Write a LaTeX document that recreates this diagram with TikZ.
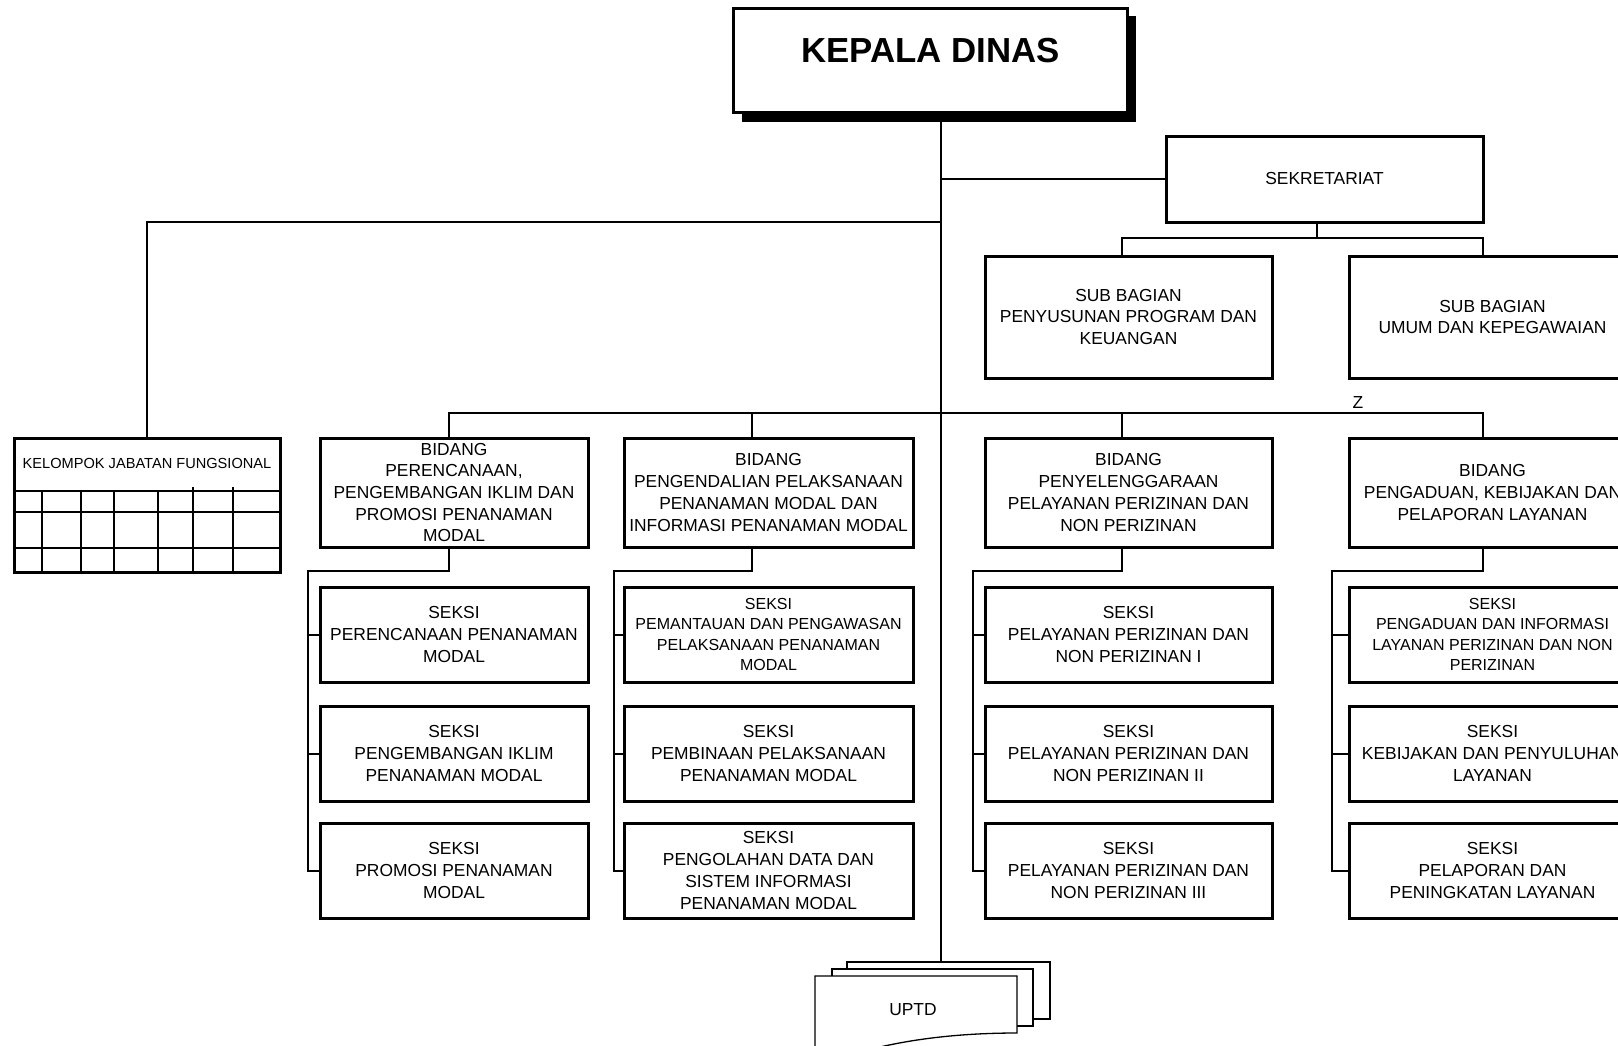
\documentclass[tikz,border=0pt]{standalone}
\usepackage{fontspec}
\setmainfont{Liberation Sans}
\newcommand\nfnt{\fontsize{17.4}{21.7}\selectfont}
\newcommand\smfnt{\fontsize{16}{20.3}\selectfont}
\newcommand\kjfnt{\fontsize{14.6}{18}\selectfont}
\begin{document}
\begin{tikzpicture}[x=1pt,y=-1pt,
  box/.style={draw, line width=3pt, fill=white, minimum width=287pt, minimum height=95pt,
    align=center, inner sep=0pt, font=\nfnt},
  bid/.style={box, minimum height=109pt},
  conn/.style={line width=2pt},
  doc/.style={draw, line width=1.3pt, fill=white, inner sep=0pt},
  grid/.style={line width=2pt}]
\useasboundingbox (0,0) rectangle (1618,1045);
\clip (0,0) rectangle (1618,1045);

% Kepala Dinas with shadow
\fill (742,16) rectangle (1136,122);
\node[draw, line width=3pt, fill=white, minimum width=394pt, minimum height=104pt, inner sep=0pt] (kd) at (930.5,60) {};
\node[font=\bfseries\fontsize{34.8}{40}\selectfont, inner sep=0pt] (kdt) at (930.5,51) {KEPALA DINAS};

% Sekretariat and sub bagian
\node[box, minimum width=317pt, minimum height=86pt] (sek) at (1324.5,179) {SEKRETARIAT};
\node[box, minimum height=122pt] (sb1) at (1128.5,317) {SUB BAGIAN\\PENYUSUNAN PROGRAM DAN\\KEUANGAN};
\node[box, minimum height=122pt] (sb2) at (1492.5,317) {SUB BAGIAN\\UMUM DAN KEPEGAWAIAN};

% Kelompok jabatan fungsional
\node[draw, line width=3pt, fill=white, minimum width=266pt, minimum height=134pt, inner sep=0pt] (kjf) at (147,505) {};
\node[font=\kjfnt, inner sep=0pt] (kjft) at (147,463) {KELOMPOK JABATAN FUNGSIONAL};
\foreach \yy in {491,512,548} \draw[grid] (kjf.west |- 0,\yy) -- (kjf.east |- 0,\yy);
\foreach \xx in {41.7,80.7,114,158} \draw[grid] (\xx,491) -- (kjf.south -| \xx,0);
\foreach \xx in {193,233} \draw[grid] (\xx,487) -- (kjf.south -| \xx,0);

% Bidang
\node[bid, minimum width=268pt] (b1) at (454,492.5) {BIDANG\\PERENCANAAN,\\PENGEMBANGAN IKLIM DAN\\PROMOSI PENANAMAN\\MODAL};
\node[bid, minimum width=289pt] (b2) at (768.5,492.5) {BIDANG\\PENGENDALIAN PELAKSANAAN\\PENANAMAN MODAL DAN\\INFORMASI PENANAMAN MODAL};
\node[bid] (b3) at (1128.5,492.5) {BIDANG\\PENYELENGGARAAN\\PELAYANAN PERIZINAN DAN\\NON PERIZINAN};
\node[bid] (b4) at (1492.5,492.5) {BIDANG\\PENGADUAN, KEBIJAKAN DAN\\PELAPORAN LAYANAN};

% Seksi column 1
\node[box, minimum width=268pt] (s11) at (454,634.5) {SEKSI\\PERENCANAAN PENANAMAN\\MODAL};
\node[box, minimum width=268pt] (s12) at (454,753.5) {SEKSI\\PENGEMBANGAN IKLIM\\PENANAMAN MODAL};
\node[box, minimum width=268pt] (s13) at (454,870.5) {SEKSI\\PROMOSI PENANAMAN\\MODAL};
% Seksi column 2
\node[box, minimum width=289pt, font=\smfnt] (s21) at (768.5,634.5) {SEKSI\\PEMANTAUAN DAN PENGAWASAN\\PELAKSANAAN PENANAMAN\\MODAL};
\node[box, minimum width=289pt] (s22) at (768.5,753.5) {SEKSI\\PEMBINAAN PELAKSANAAN\\PENANAMAN MODAL};
\node[box, minimum width=289pt] (s23) at (768.5,870.5) {SEKSI\\PENGOLAHAN DATA DAN\\SISTEM INFORMASI\\PENANAMAN MODAL};
% Seksi column 3
\node[box] (s31) at (1128.5,634.5) {SEKSI\\PELAYANAN PERIZINAN DAN\\NON PERIZINAN I};
\node[box] (s32) at (1128.5,753.5) {SEKSI\\PELAYANAN PERIZINAN DAN\\NON PERIZINAN II};
\node[box] (s33) at (1128.5,870.5) {SEKSI\\PELAYANAN PERIZINAN DAN\\NON PERIZINAN III};
% Seksi column 4
\node[box, font=\smfnt] (s41) at (1492.5,634.5) {SEKSI\\PENGADUAN DAN INFORMASI\\LAYANAN PERIZINAN DAN NON\\PERIZINAN};
\node[box] (s42) at (1492.5,753.5) {SEKSI\\KEBIJAKAN DAN PENYULUHAN\\LAYANAN};
\node[box] (s43) at (1492.5,870.5) {SEKSI\\PELAPORAN DAN\\PENINGKATAN LAYANAN};

% UPTD stacked documents
\node[doc, minimum width=203pt, minimum height=57pt] (ub) at (948.5,990.5) {};
\node[doc, minimum width=201pt, minimum height=57pt] (um) at (932.5,997.5) {};
\draw[line width=1.3pt, fill=white] (815,1056) -- (815,976) -- (1017,976) -- (1017,1033)
  .. controls (960,1033) and (915,1039) .. (880,1047)
  .. controls (850,1054) and (830,1057) .. (815,1056) -- cycle;
\node[font=\nfnt, inner sep=0pt] (uptd) at (913,1010) {UPTD};

% Z label
\node[font=\nfnt, inner sep=0pt] (zl) at (1358,403) {Z};

% Coordinates for connectors
\coordinate (t) at (941,0);
\coordinate (lb) at (147,222);
\coordinate (sj) at (1317,238);
\coordinate (d1) at (449,413);
\coordinate (d2) at (752,413);
\coordinate (d3) at (1122,413);
\coordinate (d4) at (1483,413);
\coordinate (v1) at (308,571);
\coordinate (v2) at (613.5,571);
\coordinate (v3) at (972.5,571);
\coordinate (v4) at (1332,571);

% Connectors
\draw[conn] (kd.south -| t) -- (ub.north -| t);
\draw[conn] (t |- sek.west) -- (sek.west);
\draw[conn] (t |- lb) -- (lb) -- (kjf.north);
\draw[conn] (sj |- sek.south) -- (sj);
\draw[conn] ([xshift=-6.5pt]sb1.north) |- (sj) -| ([xshift=-9.5pt]sb2.north);
\draw[conn] (d1 |- b1.north) -- (d1) -- (d4) -- (d4 |- b4.north);
\draw[conn] (d2) -- (d2 |- b2.north);
\draw[conn] (d3) -- (d3 |- b3.north);

\draw[conn] (d1 |- b1.south) -- (d1 |- v1) -- (v1) -- (v1 |- s13.west) -- (s13.west);
\draw[conn] (v1 |- s11.west) -- (s11.west);
\draw[conn] (v1 |- s12.west) -- (s12.west);

\draw[conn] (d2 |- b2.south) -- (d2 |- v2) -- (v2) -- (v2 |- s23.west) -- (s23.west);
\draw[conn] (v2 |- s21.west) -- (s21.west);
\draw[conn] (v2 |- s22.west) -- (s22.west);

\draw[conn] (d3 |- b3.south) -- (d3 |- v3) -- (v3) -- (v3 |- s33.west) -- (s33.west);
\draw[conn] (v3 |- s31.west) -- (s31.west);
\draw[conn] (v3 |- s32.west) -- (s32.west);

\draw[conn] (d4 |- b4.south) -- (d4 |- v4) -- (v4) -- (v4 |- s43.west) -- (s43.west);
\draw[conn] (v4 |- s41.west) -- (s41.west);
\draw[conn] (v4 |- s42.west) -- (s42.west);
\end{tikzpicture}
\end{document}
